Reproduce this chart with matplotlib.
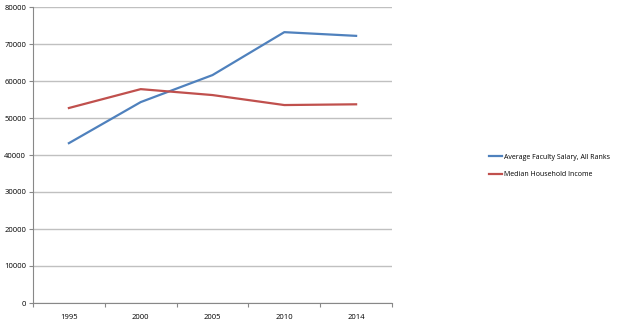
import matplotlib
matplotlib.use("Agg")
import matplotlib.pyplot as plt
from matplotlib.ticker import FixedLocator

years = ["1995", "2000", "2005", "2010", "2014"]
faculty_salary = [43200, 54300, 61600, 73200, 72200]
household_income = [52700, 57800, 56200, 53500, 53700]
series_names = ["Average Faculty Salary, All Ranks", "Median Household Income"]
yticks = [0, 10000, 20000, 30000, 40000, 50000, 60000, 70000, 80000]

W, H = 630, 324
fig = plt.figure(figsize=(W / 100, H / 100), dpi=100)
ax = fig.add_axes([33 / W, (H - 303) / H, (392 - 33) / W, (303 - 7) / H])

x = list(range(len(years)))
ax.plot(x, faculty_salary, color="#4F81BD", lw=1.6, label=series_names[0])
ax.plot(x, household_income, color="#C0504D", lw=1.6, label=series_names[1])

ax.set_xlim(-0.5, len(years) - 0.5)
ax.set_ylim(0, 80000)
ax.set_yticks(yticks)
ax.set_yticklabels([str(v) for v in yticks])
ax.set_xticks(x)
ax.set_xticklabels(years)
ax.xaxis.set_minor_locator(FixedLocator([i - 0.5 for i in range(len(years) + 1)]))
ax.tick_params(axis="x", which="major", length=0, pad=8, labelsize=5.5)
ax.tick_params(axis="x", which="minor", length=3, color="#888888", width=0.8)
ax.tick_params(axis="y", length=3, color="#888888", width=0.8, labelsize=5.5, pad=2)
ax.grid(axis="y", color="#C0C0C0", lw=1.0)
ax.set_axisbelow(True)
for s in ["top", "right"]:
    ax.spines[s].set_visible(False)
for s in ["left", "bottom"]:
    ax.spines[s].set_color("#888888")
    ax.spines[s].set_linewidth(0.8)

for t in ax.get_xticklabels() + ax.get_yticklabels():
    t.set_fontfamily("Open Sans")

fig.legend(loc="center left", bbox_to_anchor=(483 / W, 1 - 166 / H), frameon=False,
           handlelength=1.9, handletextpad=0.2, labelspacing=1.5,
           prop={"family": "Open Sans", "size": 5.0})

fig.savefig("out.png", dpi=100)
